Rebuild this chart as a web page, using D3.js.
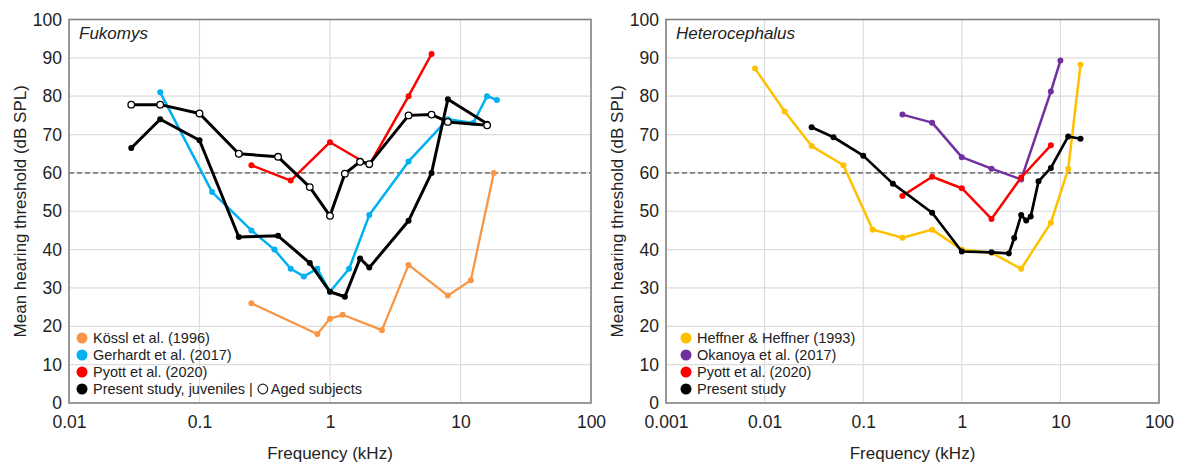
<!DOCTYPE html>
<html lang="en">
<head>
    <meta charset="UTF-8">
    <title>Hearing thresholds</title>
    <style>
        body, html {
            margin: 0;
            padding: 0;
            width: 100%;
            height: 100%;
            overflow: hidden;
            background: #fff;
        }
        svg text {
            font-family: "Liberation Sans", Arial, sans-serif;
            fill: #222;
        }
        .grid line {
            stroke: #dcdcdc;
            stroke-width: 1.2px;
        }
    </style>
    <script src="https://d3js.org/d3.v7.min.js"></script>
</head>
<body>
    <div id="chart"></div>

    <script>
        // ---- data: Fukomys (left panel) ----
        const kosslF = [0.25, 0.8, 1, 1.25, 2.5, 4, 8, 12, 18];
        const kosslV = [26, 18, 22, 23, 19, 36, 28, 32, 60];

        const gerhardtF = [0.05, 0.125, 0.25, 0.375, 0.5, 0.63, 0.8, 1, 1.4, 2, 4, 8, 12.5, 16, 19];
        const gerhardtV = [81, 55, 45, 40, 35, 33, 35, 29, 35, 49, 63, 74, 73, 80, 79];

        const pyottFukF = [0.25, 0.5, 1, 2, 4, 6];
        const pyottFukV = [62, 58, 68, 62, 80, 91];

        const juvF = [0.03, 0.05, 0.1, 0.2, 0.4, 0.7, 1, 1.3, 1.7, 2, 4, 6, 8, 16];
        const juvV = [66.5, 74, 68.5, 43.3, 43.6, 36.5, 29, 27.7, 37.7, 35.3, 47.5, 60, 79.2, 72.8];

        const agedF = [0.03, 0.05, 0.1, 0.2, 0.4, 0.7, 1, 1.3, 1.7, 2, 4, 6, 8, 16];
        const agedV = [77.8, 77.8, 75.5, 65, 64.2, 56.3, 48.8, 59.8, 62.9, 62.3, 75, 75.2, 73.3, 72.4];

        // ---- data: Heterocephalus (right panel) ----
        const heffnerF = [0.008, 0.016, 0.03, 0.063, 0.125, 0.25, 0.5, 1, 2, 4, 8, 12, 16];
        const heffnerV = [87.2, 76, 67, 62, 45.2, 43.1, 45.2, 40, 39.2, 35, 47, 61, 88.2];

        const okanoyaF = [0.25, 0.5, 1, 2, 4, 8, 10];
        const okanoyaV = [75.2, 73.1, 64.1, 61.1, 58.3, 81.2, 89.3];

        const pyottHetF = [0.25, 0.5, 1, 2, 4, 8];
        const pyottHetV = [54, 59, 56, 48, 58.8, 67.2];

        const presentF = [0.03, 0.05, 0.1, 0.2, 0.5, 1, 2, 3, 3.4, 4, 4.5, 5, 6, 8, 12, 16];
        const presentV = [71.9, 69.3, 64.5, 57.2, 49.6, 39.5, 39.3, 39, 43, 49, 47.6, 48.6, 57.8, 61.3, 69.5, 68.9];

        const yTicks = [0, 10, 20, 30, 40, 50, 60, 70, 80, 90, 100];
        const xTicksLeft = [0.01, 0.1, 1, 10, 100];
        const xTicksRight = [0.001, 0.01, 0.1, 1, 10, 100];

        const zip = (f, v) => f.map((x, i) => ({ f: x, v: v[i] }));

        const panels = [
            {
                title: "Fukomys",
                left: 69, right: 591, xDomain: [0.01, 100], ticks: xTicksLeft,
                series: [
                    { data: zip(kosslF, kosslV), color: "#f79646", w: 2.3, r: 3 },
                    { data: zip(gerhardtF, gerhardtV), color: "#00b0f0", w: 2.5, r: 3 },
                    { data: zip(pyottFukF, pyottFukV), color: "#ff0000", w: 2.5, r: 3 },
                    { data: zip(juvF, juvV), color: "#000", w: 3, r: 3 },
                    { data: zip(agedF, agedV), color: "#000", w: 3, r: 3.3, open: true }
                ],
                legend: [
                    ["K\u00f6ssl et al. (1996)", "#f79646"],
                    ["Gerhardt et al. (2017)", "#00b0f0"],
                    ["Pyott et al. (2020)", "#ff0000"],
                    ["Present study, juveniles |", "#000", "Aged subjects"]
                ],
                legendX: 82
            },
            {
                title: "Heterocephalus",
                left: 666, right: 1159, xDomain: [0.001, 100], ticks: xTicksRight,
                series: [
                    { data: zip(heffnerF, heffnerV), color: "#ffc000", w: 2.5, r: 3 },
                    { data: zip(okanoyaF, okanoyaV), color: "#7030a0", w: 2.5, r: 3 },
                    { data: zip(pyottHetF, pyottHetV), color: "#ff0000", w: 2.5, r: 3 },
                    { data: zip(presentF, presentV), color: "#000", w: 2.7, r: 3 }
                ],
                legend: [
                    ["Heffner & Heffner (1993)", "#ffc000"],
                    ["Okanoya et al. (2017)", "#7030a0"],
                    ["Pyott et al. (2020)", "#ff0000"],
                    ["Present study", "#000"]
                ],
                legendX: 686
            }
        ];

        const plotTop = 19.5, plotBottom = 403;

        const svg = d3.select("#chart")
            .append("svg")
            .attr("width", 1178)
            .attr("height", 464);

        const y = d3.scaleLinear().domain([0, 100]).range([plotBottom, plotTop]);

        panels.forEach(p => {
            const x = d3.scaleLog().domain(p.xDomain).range([p.left, p.right]);
            const g = svg.append("g");

            // grid
            const grid = g.append("g").attr("class", "grid");
            grid.selectAll(".gy").data(yTicks.slice(1, -1)).enter().append("line")
                .attr("x1", p.left).attr("x2", p.right)
                .attr("y1", d => y(d)).attr("y2", d => y(d));
            grid.selectAll(".gx").data(p.ticks.slice(1, -1)).enter().append("line")
                .attr("x1", d => x(d)).attr("x2", d => x(d))
                .attr("y1", plotTop).attr("y2", plotBottom);

            // 60 dB reference
            g.append("line")
                .attr("x1", p.left).attr("x2", p.right)
                .attr("y1", y(60)).attr("y2", y(60))
                .attr("stroke", "#7f7f7f").attr("stroke-width", 1.6)
                .attr("stroke-dasharray", "5,3");

            // frame
            g.append("rect")
                .attr("x", p.left).attr("y", plotTop)
                .attr("width", p.right - p.left).attr("height", plotBottom - plotTop)
                .attr("fill", "none").attr("stroke", "#808080").attr("stroke-width", 1.6);

            // axes
            const yAxis = d3.axisLeft(y).tickValues(yTicks).tickSize(0).tickPadding(7);
            const ya = g.append("g").attr("transform", `translate(${p.left},0)`).call(yAxis);
            ya.select(".domain").remove();
            ya.selectAll("text").style("font-size", "17.5px").style("fill", "#222");

            const xAxis = d3.axisBottom(x).tickValues(p.ticks).tickFormat(d => String(d)).tickSize(0).tickPadding(13);
            const xa = g.append("g").attr("transform", `translate(0,${plotBottom})`).call(xAxis);
            xa.select(".domain").remove();
            xa.selectAll("text").style("font-size", "17.5px").style("fill", "#222");

            // axis titles
            g.append("text")
                .attr("x", (p.left + p.right) / 2).attr("y", 459)
                .attr("text-anchor", "middle").style("font-size", "17px")
                .text("Frequency (kHz)");
            g.append("text")
                .attr("transform", `translate(${p.left - 43},${(plotTop + plotBottom) / 2}) rotate(-90)`)
                .attr("text-anchor", "middle").style("font-size", "17px")
                .text("Mean hearing threshold (dB SPL)");

            // panel title
            g.append("text")
                .attr("x", p.left + 10).attr("y", 39)
                .style("font-size", "17px").style("font-style", "italic")
                .text(p.title);

            // series
            const line = d3.line().x(d => x(d.f)).y(d => y(d.v));
            p.series.forEach(s => {
                g.append("path")
                    .datum(s.data)
                    .attr("d", line)
                    .attr("fill", "none")
                    .attr("stroke", s.color)
                    .attr("stroke-width", s.w)
                    .attr("stroke-linejoin", "round");
                g.selectAll(null).data(s.data).enter().append("circle")
                    .attr("cx", d => x(d.f)).attr("cy", d => y(d.v))
                    .attr("r", s.r)
                    .attr("fill", s.open ? "#fff" : s.color)
                    .attr("stroke", s.open ? "#000" : "none")
                    .attr("stroke-width", 1.3);
            });

            // legend
            const lg = g.append("g");
            p.legend.forEach((item, i) => {
                const ly = 338 + i * 17;
                lg.append("circle")
                    .attr("cx", p.legendX).attr("cy", ly).attr("r", 5.5)
                    .attr("fill", item[1]);
                const t = lg.append("text")
                    .attr("x", p.legendX + 11).attr("y", ly + 5)
                    .style("font-size", "14.5px")
                    .text(item[0]);
                if (item[2]) {
                    const w = t.node().getComputedTextLength();
                    const cx = p.legendX + 11 + w + 10;
                    lg.append("circle")
                        .attr("cx", cx).attr("cy", ly).attr("r", 4.8)
                        .attr("fill", "#fff").attr("stroke", "#222").attr("stroke-width", 1.2);
                    lg.append("text")
                        .attr("x", cx + 8).attr("y", ly + 5)
                        .style("font-size", "14.5px")
                        .text(item[2]);
                }
            });
        });
    </script>
</body>
</html>
